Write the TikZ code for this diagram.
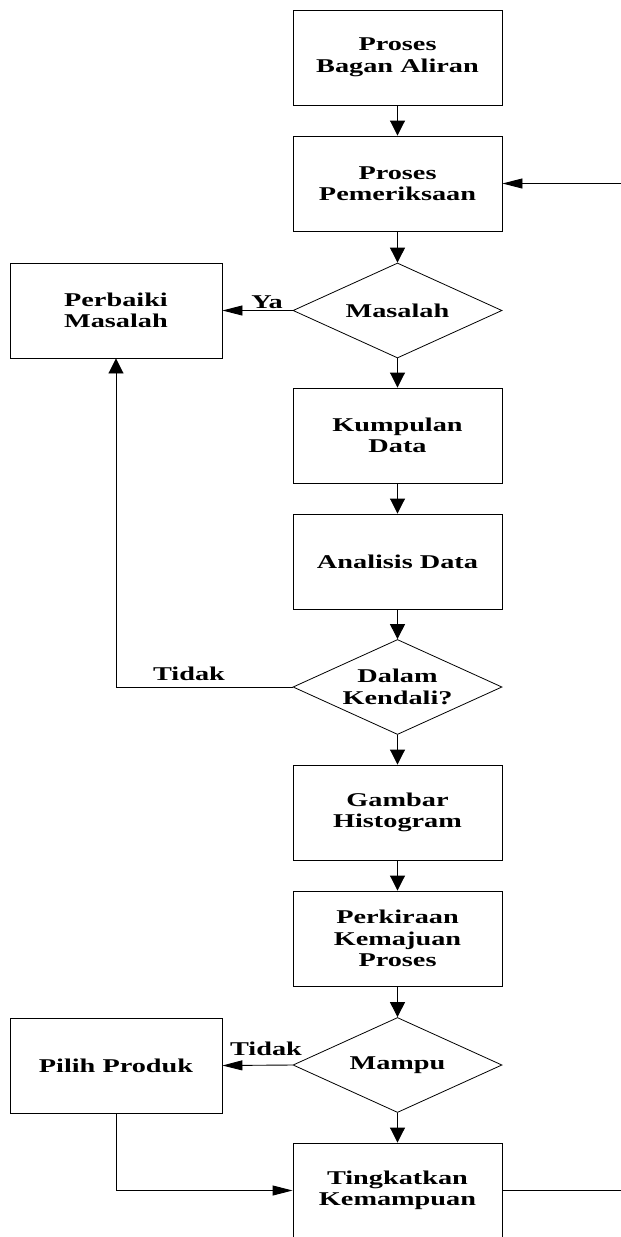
\documentclass[tikz,border=0pt]{standalone}
\usepackage{fontspec}
\setmainfont{Liberation Serif}[FakeStretch=1.45]
\usetikzlibrary{shapes.geometric,arrows.meta}
\begin{document}
\begin{tikzpicture}[x=1pt,y=-1pt,
  every node/.style={font=\fontsize{19.5}{21.5}\selectfont\bfseries, align=center},
  stepbox/.style={draw, line width=0.9pt, minimum width=209pt, minimum height=95pt, inner sep=0pt},
  sidebox/.style={draw, line width=0.9pt, minimum width=212pt, minimum height=95pt, inner sep=0pt},
  decision/.style={draw, line width=0.8pt, diamond, minimum width=209pt, minimum height=95pt, inner sep=0pt},
  vflow/.style={line width=0.9pt, -{Triangle[length=15pt,width=15pt]}},
  hflow/.style={line width=0.9pt, -{Triangle[length=20pt,width=10pt]}},
  plain/.style={line width=0.9pt}]
\useasboundingbox (0,0) rectangle (621,1237);
\clip (0,0) rectangle (621,1237);

% main column
\node[stepbox] (b1) at (397.5,57.5) {Proses\\Bagan Aliran};
\node[stepbox] (b2) at (397.5,183.5) {Proses\\Pemeriksaan};
\node[decision] (d1) at (397.5,310.5) {};
\node at (d1) {Masalah};
\node[stepbox] (b3) at (397.5,435.5) {Kumpulan\\Data};
\node[stepbox] (b4) at (397.5,561.5) {Analisis Data};
\node[decision] (d2) at (397.5,687) {};
\node at (d2) {Dalam\\Kendali?};
\node[stepbox] (b5) at (397.5,812.5) {Gambar\\Histogram};
\node[stepbox] (b6) at (397.5,938.5) {Perkiraan\\Kemajuan\\Proses};
\node[decision] (d3) at (397.5,1065) {};
\node at (d3) {Mampu};
\node[stepbox] (b7) at (397.5,1190.5) {Tingkatkan\\Kemampuan};

% side boxes
\node[sidebox] (fix) at (116,310.5) {Perbaiki\\Masalah};
\node[sidebox] (pick) at (116,1065.5) {Pilih Produk};

% free ends at the right edge
\coordinate (inR) at (621,183.5);
\coordinate (outR) at (621,1190.5);

% vertical flow
\draw[vflow] (b1) -- (b2);
\draw[vflow] (b2) -- (d1);
\draw[vflow] (d1) -- (b3);
\draw[vflow] (b3) -- (b4);
\draw[vflow] (b4) -- (d2);
\draw[vflow] (d2) -- (b5);
\draw[vflow] (b5) -- (b6);
\draw[vflow] (b6) -- (d3);
\draw[vflow] (d3) -- (b7);

% branches
\draw[hflow] (d1.west) -- (fix.east);
\node at (267,302) {Ya};
\draw[vflow] (d2.west) -| (fix.south);
\node at (189,674) {Tidak};
\draw[hflow] (d3.west) -- (pick.east);
\node at (266,1049) {Tidak};
\draw[hflow] (pick.south) |- (b7.west);

% loop ends
\draw[hflow] (inR) -- (b2.east);
\draw[plain] (b7.east) -- (outR);
\end{tikzpicture}
\end{document}
